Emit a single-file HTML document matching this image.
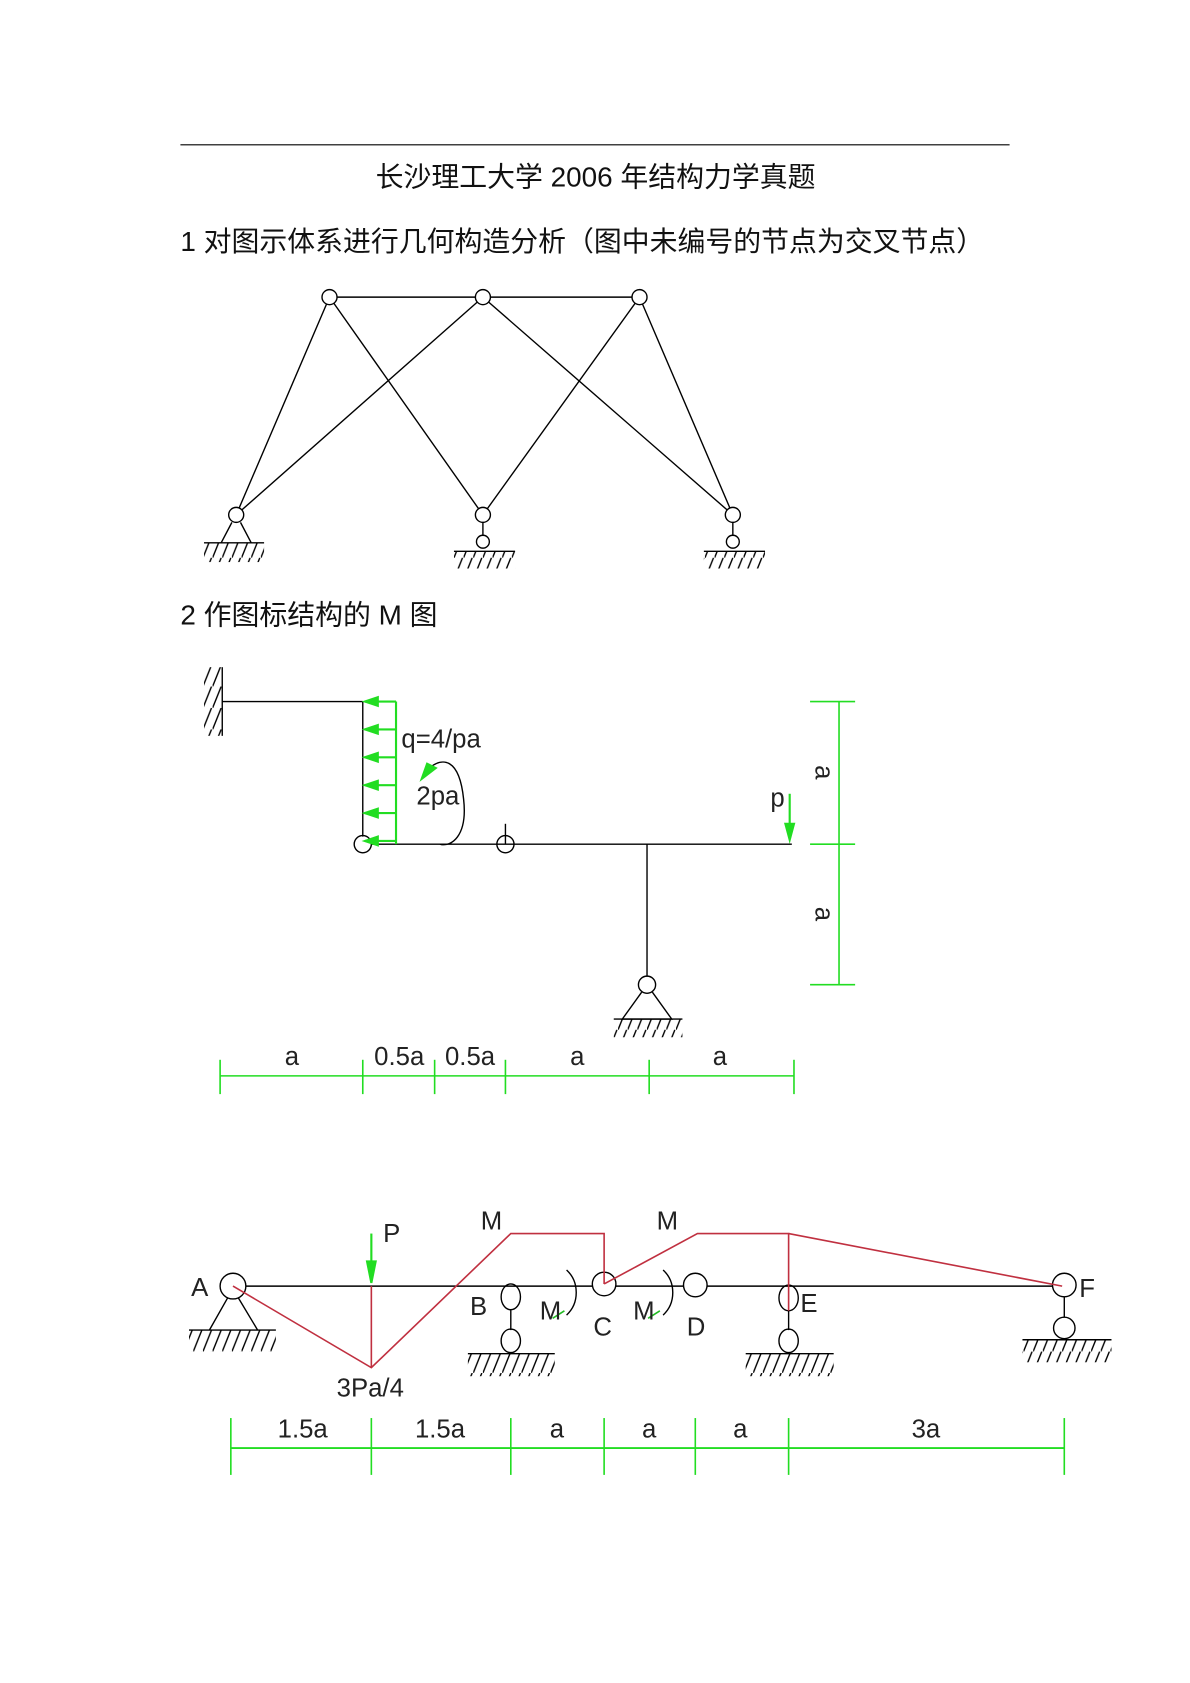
<!DOCTYPE html>
<html><head><meta charset="utf-8"><style>
html,body{margin:0;padding:0;background:#fff;}
svg{display:block;}
.cn{font-family:"Liberation Sans","Noto Sans CJK SC",sans-serif;font-size:26px;fill:#111;}
.cad{font-family:"Liberation Sans",sans-serif;font-size:24px;fill:#222;font-weight:300;}
</style></head><body>
<svg width="1190" height="1683" viewBox="0 0 1109 1569" xmlns="http://www.w3.org/2000/svg">
<defs>
<pattern id="h" width="9" height="20" patternUnits="userSpaceOnUse"><line x1="8" y1="0" x2="0" y2="20" stroke="#000" stroke-width="1.3"/></pattern>
</defs>
<line x1="168" y1="135" x2="941" y2="135" stroke="#000" stroke-width="1"/>
<text class="cn" x="555" y="174" text-anchor="middle">长沙理工大学 2006 年结构力学真题</text>
<text class="cn" x="168" y="234">1 对图示体系进行几何构造分析（图中未编号的节点为交叉节点）</text>

<!-- truss -->
<g stroke="#000" stroke-width="1.3" fill="none">
<line x1="307" y1="277" x2="596" y2="277"/>
<line x1="307" y1="277" x2="220" y2="480"/>
<line x1="307" y1="277" x2="450" y2="480"/>
<line x1="450" y1="277" x2="220" y2="480"/>
<line x1="450" y1="277" x2="683" y2="480"/>
<line x1="596" y1="277" x2="450" y2="480"/>
<line x1="596" y1="277" x2="683" y2="480"/>
</g>
<g stroke="#000" stroke-width="1.3" fill="#fff">
<circle cx="307" cy="277" r="7"/><circle cx="450" cy="277" r="7"/><circle cx="596" cy="277" r="7"/>
<circle cx="220" cy="480" r="7"/><circle cx="450" cy="480" r="7"/><circle cx="683" cy="480" r="7"/>
<path d="M216 487 L206 506 M224 487 L234 506" fill="none"/>
<rect x="190" y="506" width="56" height="18" fill="url(#h)" stroke="none"/><line x1="190" y1="506" x2="246" y2="506"/>
<line x1="450" y1="487" x2="450" y2="499"/><circle cx="450" cy="505" r="6"/>
<rect x="423" y="514" width="57" height="16" fill="url(#h)" stroke="none"/><line x1="423" y1="514" x2="480" y2="514"/>
<line x1="683" y1="487" x2="683" y2="499"/><circle cx="683" cy="505" r="6"/>
<rect x="656" y="514" width="57" height="16" fill="url(#h)" stroke="none"/><line x1="656" y1="514" x2="713" y2="514"/>
</g>

<text class="cn" x="168" y="582">2 作图标结构的 M 图</text>

<!-- figure 2 -->
<g stroke="#000" stroke-width="1.3" fill="none">
<rect x="190" y="622" width="17" height="64" fill="url(#h)" stroke="none"/>
<line x1="207" y1="622" x2="207" y2="686"/>
<line x1="207" y1="654" x2="338" y2="654"/>
<line x1="338" y1="654" x2="338" y2="780"/>
<line x1="346" y1="787" x2="738" y2="787"/>
<circle cx="338" cy="787" r="8"/>
<circle cx="471" cy="787" r="8"/><line x1="471" y1="768" x2="471" y2="787"/>
<line x1="603" y1="787" x2="603" y2="912"/>
<circle cx="603" cy="918" r="8" fill="#fff"/>
<path d="M598 925 L580 950 L626 950 L608 925"/>
<rect x="572" y="950" width="64" height="17" fill="url(#h)" stroke="none"/><line x1="572" y1="950" x2="636" y2="950"/>
<path d="M400 716 C 412 706, 428 706, 432 745 C 436 780, 420 790, 410 787"/>
</g>
<g stroke="#22dd22" stroke-width="2" fill="#22dd22">
<line x1="369" y1="654" x2="369" y2="787"/>
<g>
<line x1="340" y1="654" x2="369" y2="654"/><path d="M340 654 L352 650 L352 658Z"/>
<line x1="340" y1="680" x2="369" y2="680"/><path d="M340 680 L352 676 L352 684Z"/>
<line x1="340" y1="706" x2="369" y2="706"/><path d="M340 706 L352 702 L352 710Z"/>
<line x1="340" y1="732" x2="369" y2="732"/><path d="M340 732 L352 728 L352 736Z"/>
<line x1="340" y1="758" x2="369" y2="758"/><path d="M340 758 L352 754 L352 762Z"/>
<line x1="340" y1="784" x2="369" y2="784"/><path d="M340 784 L352 780 L352 788Z"/>
</g>
<path d="M393 726 L398 712 L406 716Z"/>
<line x1="736" y1="740" x2="736" y2="782"/><path d="M736 783 L732 768 L740 768Z"/>
<line x1="782" y1="654" x2="782" y2="918" stroke-width="1.5"/>
<line x1="755" y1="654" x2="797" y2="654" stroke-width="1.5"/>
<line x1="755" y1="787" x2="797" y2="787" stroke-width="1.5"/>
<line x1="755" y1="918" x2="797" y2="918" stroke-width="1.5"/>
<line x1="205" y1="1003" x2="740" y2="1003" stroke-width="1.5"/>
<g stroke-width="1.5">
<line x1="205" y1="988" x2="205" y2="1020"/><line x1="338" y1="988" x2="338" y2="1020"/>
<line x1="405" y1="988" x2="405" y2="1020"/><line x1="471" y1="988" x2="471" y2="1020"/>
<line x1="605" y1="988" x2="605" y2="1020"/><line x1="740" y1="988" x2="740" y2="1020"/>
</g>
</g>
<text class="cad" x="374" y="697" font-size="22">q=4/pa</text>
<text class="cad" x="388" y="750" font-size="22">2pa</text>
<text class="cad" x="718" y="752" font-size="22">p</text>
<text class="cad" font-size="22" transform="translate(760,720) rotate(90)" text-anchor="middle">a</text>
<text class="cad" font-size="22" transform="translate(760,852) rotate(90)" text-anchor="middle">a</text>
<g class="cad" font-size="22" text-anchor="middle">
<text x="272" y="993">a</text><text x="372" y="993">0.5a</text><text x="438" y="993">0.5a</text>
<text x="538" y="993">a</text><text x="671" y="993">a</text>
</g>

<!-- figure 3 -->
<g stroke="#000" stroke-width="1.3" fill="none">
<line x1="229" y1="1199" x2="981" y2="1199"/>
<circle cx="217" cy="1199" r="12"/>
<path d="M212 1210 L195 1240 M222 1210 L240 1240"/>
<rect x="176" y="1240" width="81" height="20" fill="url(#h)" stroke="none"/><line x1="176" y1="1240" x2="257" y2="1240"/>
<ellipse cx="476" cy="1209" rx="9" ry="12"/><line x1="476" y1="1221" x2="476" y2="1240"/><ellipse cx="476" cy="1250" rx="9" ry="11"/>
<rect x="436" y="1262" width="81" height="21" fill="url(#h)" stroke="none"/><line x1="436" y1="1262" x2="517" y2="1262"/>
<circle cx="563" cy="1197" r="11" fill="#fff"/>
<circle cx="648" cy="1198" r="11" fill="#fff"/>
<ellipse cx="735" cy="1210" rx="9" ry="12"/><line x1="735" y1="1222" x2="735" y2="1240"/><ellipse cx="735" cy="1250" rx="9" ry="11"/>
<rect x="695" y="1262" width="82" height="21" fill="url(#h)" stroke="none"/><line x1="695" y1="1262" x2="777" y2="1262"/>
<circle cx="992" cy="1198" r="11"/><line x1="992" y1="1209" x2="992" y2="1228"/><circle cx="992" cy="1238" r="10"/>
<rect x="953" y="1249" width="83" height="21" fill="url(#h)" stroke="none"/><line x1="953" y1="1249" x2="1036" y2="1249"/>
<path d="M528 1184 C 540 1195, 540 1215, 528 1226"/>
<path d="M618 1184 C 630 1195, 630 1215, 618 1226"/>
</g>
<g stroke="#22bb22" stroke-width="1.5" fill="none">
<path d="M515 1229 L526 1222"/><path d="M604 1229 L615 1222"/>
</g>
<g stroke="#c03040" stroke-width="1.5" fill="none">
<path d="M217 1199 L346 1275 L476 1150 L563 1150 L563 1197"/>
<path d="M563 1197 L650 1150 L735 1150 L735 1222"/>
<path d="M735 1150 L990 1199"/>
<line x1="346" y1="1199" x2="346" y2="1275"/>
</g>
<g stroke="#22dd22" stroke-width="2" fill="#22dd22">
<line x1="346" y1="1150" x2="346" y2="1195"/><path d="M346 1196 L342 1176 L350 1176Z"/>
<line x1="215" y1="1350" x2="992" y2="1350" stroke-width="1.8"/>
<g stroke-width="1.5">
<line x1="215" y1="1322" x2="215" y2="1375"/><line x1="346" y1="1322" x2="346" y2="1375"/>
<line x1="476" y1="1322" x2="476" y2="1375"/><line x1="563" y1="1322" x2="563" y2="1375"/>
<line x1="648" y1="1322" x2="648" y2="1375"/><line x1="735" y1="1322" x2="735" y2="1375"/>
<line x1="992" y1="1322" x2="992" y2="1375"/>
</g>
</g>
<g class="cad" font-size="26">
<text x="178" y="1208">A</text><text x="357" y="1158">P</text>
<text x="448" y="1146">M</text><text x="612" y="1146">M</text>
<text x="438" y="1226">B</text><text x="503" y="1230">M</text>
<text x="553" y="1245">C</text><text x="590" y="1230">M</text>
<text x="640" y="1245">D</text><text x="746" y="1223">E</text>
<text x="1006" y="1209">F</text>
<text x="345" y="1302" text-anchor="middle">3Pa/4</text>
</g>
<g class="cad" font-size="28" text-anchor="middle">
<text x="282" y="1340">1.5a</text><text x="410" y="1340">1.5a</text>
<text x="519" y="1340">a</text><text x="605" y="1340">a</text><text x="690" y="1340">a</text>
<text x="863" y="1340">3a</text>
</g>
</svg>
</body></html>
